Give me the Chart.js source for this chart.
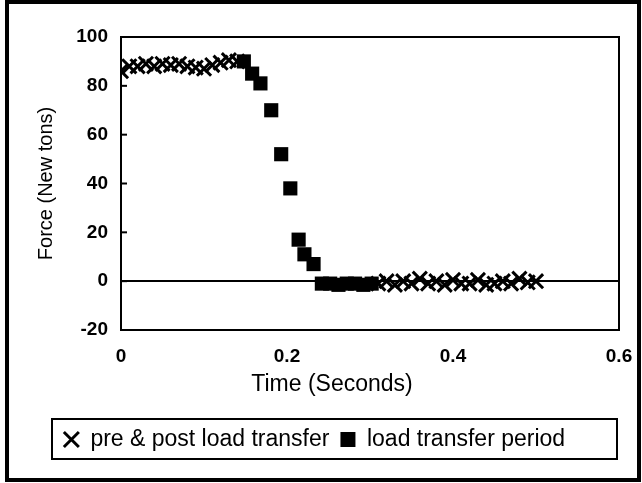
<!DOCTYPE html>
<html>
<head>
<meta charset="utf-8">
<script src="https://cdn.jsdelivr.net/npm/chart.js@4.4.1/dist/chart.umd.min.js"></script>
<style>
  html, body { margin: 0; padding: 0; background: #fff; }
  #wrap { width: 642px; height: 483px; }
</style>
</head>
<body>
<div id="wrap"><canvas id="c" width="642" height="483"></canvas></div>
<script>
// Force record of one load transfer (time in seconds, force in Newtons)
const preTimes  = [0, 0.01, 0.02, 0.03, 0.04, 0.05, 0.06, 0.07, 0.08, 0.09, 0.10, 0.11, 0.12, 0.13, 0.14];
const preForce  = [86, 88, 88, 89, 88, 89, 88.5, 89, 88, 87.5, 87, 88.5, 89.5, 90.5, 90];
const postTimes = [0.31, 0.32, 0.33, 0.34, 0.35, 0.36, 0.37, 0.38, 0.39, 0.40, 0.41, 0.42, 0.43, 0.44, 0.45, 0.46, 0.47, 0.48, 0.49, 0.50];
const postForce = [-1, 0, -1.5, 0, -1, 1, -1, 0, -1.5, 0.5, -1, -1, 0.5, -1.5, -1, 0, -1, 1, -0.5, 0];
const transferTimes = [0.148, 0.158, 0.168, 0.181, 0.193, 0.204, 0.214, 0.221, 0.232, 0.242, 0.252, 0.262, 0.272, 0.282, 0.292, 0.302];
const transferForce = [90, 85, 81, 70, 52, 38, 17, 11, 7, -1, -1, -1.5, -1, -1, -1.5, -1];
const xTickValues = [0, 0.2, 0.4, 0.6];
const yTickValues = [-20, 0, 20, 40, 60, 80, 100];
const xTitle = 'Time (Seconds)';

const FONT = "'Liberation Sans', Arial, sans-serif";

const toPoints = (xs, ys) => xs.map((x, i) => ({ x: x, y: ys[i] }));
const prePost = toPoints(preTimes, preForce).concat(toPoints(postTimes, postForce));
const transfer = toPoints(transferTimes, transferForce);

// Frame around the figure, plot box, inner y ticks, x title and legend box
const framePlugin = {
  id: 'frame',
  afterDraw(chart) {
    const ctx = chart.ctx;
    const a = chart.chartArea;
    ctx.save();
    ctx.strokeStyle = '#000';
    ctx.lineWidth = 2;
    ctx.strokeRect(a.left, a.top, a.right - a.left, a.bottom - a.top);
    const ys = chart.scales.y;
    yTickValues.forEach(v => {
      const py = ys.getPixelForValue(v);
      ctx.beginPath();
      ctx.moveTo(a.left, py);
      ctx.lineTo(a.left + 6, py);
      ctx.stroke();
    });
    // x axis title, centred under the figure
    ctx.fillStyle = '#000';
    ctx.font = '23px ' + FONT;
    ctx.textAlign = 'center';
    ctx.textBaseline = 'middle';
    ctx.fillText(xTitle, 332, 385);
    // legend box
    const lg = chart.legend;
    ctx.lineWidth = 2;
    ctx.strokeRect(52, lg.top + 2, 565, 40);
    // outer frame
    ctx.lineWidth = 4;
    ctx.strokeRect(7, 2, 632, 478);
    ctx.restore();
  }
};

new Chart(document.getElementById('c'), {
  type: 'scatter',
  data: {
    datasets: [
      {
        label: 'pre & post load transfer',
        data: prePost,
        pointStyle: 'crossRot',
        pointRadius: 10,
        pointBorderWidth: 3,
        borderWidth: 3,
        borderColor: '#000',
        backgroundColor: '#000'
      },
      {
        label: 'load transfer period',
        data: transfer,
        pointStyle: 'rect',
        pointRadius: 10,
        pointBorderWidth: 0,
        borderWidth: 0,
        borderColor: '#000',
        backgroundColor: '#000'
      }
    ]
  },
  options: {
    responsive: false,
    animation: false,
    devicePixelRatio: 1,
    layout: { padding: { left: 10, right: 23, top: 37, bottom: 22 } },
    plugins: {
      tooltip: { enabled: false },
      legend: {
        position: 'bottom',
        labels: {
          usePointStyle: true,
          color: '#000',
          font: { family: FONT, size: 23 },
          padding: 11,
          boxWidth: 15,
          boxHeight: 15
        }
      }
    },
    scales: {
      x: {
        type: 'linear',
        min: 0,
        max: 0.6,
        afterBuildTicks(scale) { scale.ticks = xTickValues.map(v => ({ value: v })); },
        afterFit(scale) {
          scale.height = 87;
          scale.paddingLeft = 0;
          scale.paddingRight = 0;
        },
        ticks: {
          color: '#000',
          font: { family: FONT, size: 19, weight: 'bold' },
          padding: 15,
          maxRotation: 0,
          callback: v => String(v)
        },
        grid: { display: false, drawTicks: false },
        border: { display: false },
        title: { display: false, text: xTitle }
      },
      y: {
        type: 'linear',
        min: -20,
        max: 100,
        afterBuildTicks(scale) { scale.ticks = yTickValues.map(v => ({ value: v })); },
        afterFit(scale) { scale.width = 111; },
        ticks: {
          color: '#000',
          font: { family: FONT, size: 19, weight: 'bold' },
          padding: 13
        },
        grid: {
          drawTicks: false,
          color: ctx => (ctx.tick && ctx.tick.value === 0 ? '#000' : 'rgba(0,0,0,0)'),
          lineWidth: ctx => (ctx.tick && ctx.tick.value === 0 ? 2 : 0)
        },
        border: { display: false },
        title: {
          display: true,
          text: 'Force (New tons)',
          color: '#000',
          font: { family: FONT, size: 20 },
          padding: { top: 24, bottom: 0 }
        }
      }
    }
  },
  plugins: [framePlugin]
});
</script>
</body>
</html>
